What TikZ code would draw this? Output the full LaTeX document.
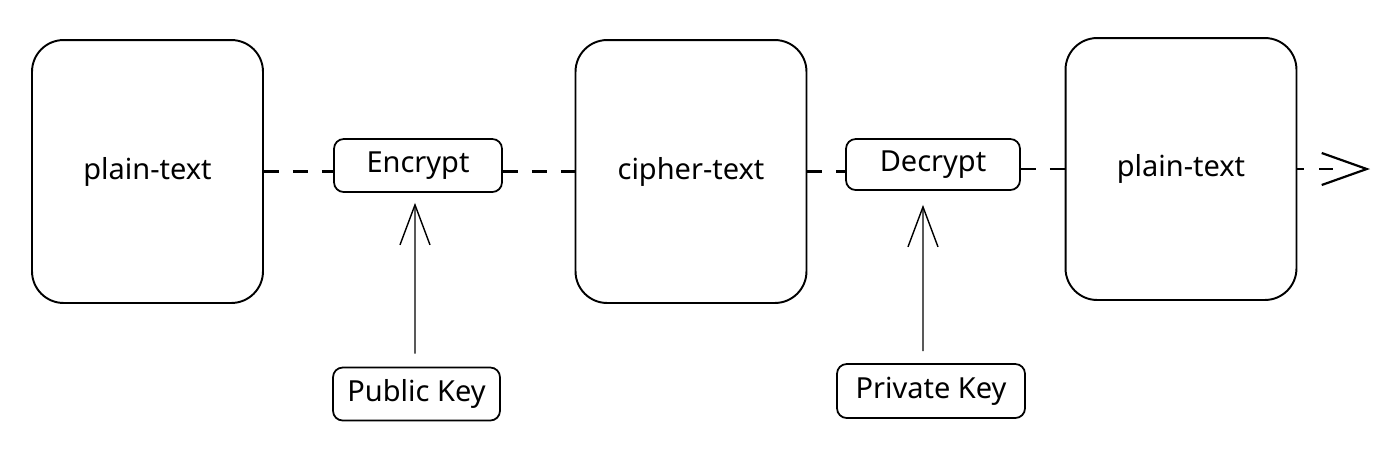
\documentclass[tikz,border=0pt]{standalone}
\usepackage{fontspec}
\setmainfont{Noto Sans}
\usetikzlibrary{arrows.meta,calc}
\begin{document}
\begin{tikzpicture}[x=0.02cm,y=-0.02cm,
  bigbox/.style={draw, line width=1.1pt, rounded corners=18pt, minimum width=4.62cm, minimum height=5.26cm, font=\fontsize{16.5}{19}\selectfont, inner sep=0pt},
  smallbox/.style={draw, line width=1pt, rounded corners=5.5pt, minimum height=1.06cm, font=\fontsize{16.5}{19}\selectfont, inner sep=0pt},
  dashline/.style={line width=1.25pt, dash pattern=on 8.5pt off 8pt},
  keyarrow/.style={line width=0.8pt, -{Straight Barb[length=0.8cm,width=0.6cm,line width=0.8pt]}}
]
\useasboundingbox (0,0) rectangle (1390,458);
\node[bigbox] (p1) at (147.5,171.5) {plain-text};
\node[bigbox] (c) at (691,171.5) {cipher-text};
\node[bigbox, minimum height=5.24cm] (p2) at (1181,169) {plain-text};
\node[smallbox, minimum width=3.36cm] (enc) at (418,165.5) {Encrypt};
\node[smallbox, minimum width=3.48cm, minimum height=1.02cm] (dec) at (933,164.5) {Decrypt};
\node[smallbox, minimum width=3.34cm] (pub) at (416.5,394) {Public Key};
\node[smallbox, minimum width=3.76cm, minimum height=1.08cm] (priv) at (931,391) {Private Key};
\coordinate (end) at (1370,169);
\coordinate (endpre) at (1366,169);
\draw[dashline] (p1.east) -- (p1.east -| enc.west);
\draw[dashline] (enc.east |- c.west) -- (c.west);
\draw[dashline] (c.east) -- (c.east -| dec.west);
\draw[dashline] (dec.east |- p2.west) -- (p2.west);
\draw[dashline, dash pattern=on 3.5pt off 9pt on 8pt off 20pt] (p2.east) -- (endpre);
\draw[line width=1.25pt, -{Straight Barb[length=0.9cm,width=0.64cm,line width=1.25pt]}] (endpre) -- (end);
\draw[keyarrow] ([xshift=-0.03cm,yshift=0.26cm]pub.north) -- ([xshift=-0.06cm,yshift=-0.2cm]enc.south);
\draw[keyarrow] ([xshift=-0.16cm,yshift=0.24cm]priv.north) -- ([xshift=-0.2cm,yshift=-0.28cm]dec.south);
\end{tikzpicture}
\end{document}
